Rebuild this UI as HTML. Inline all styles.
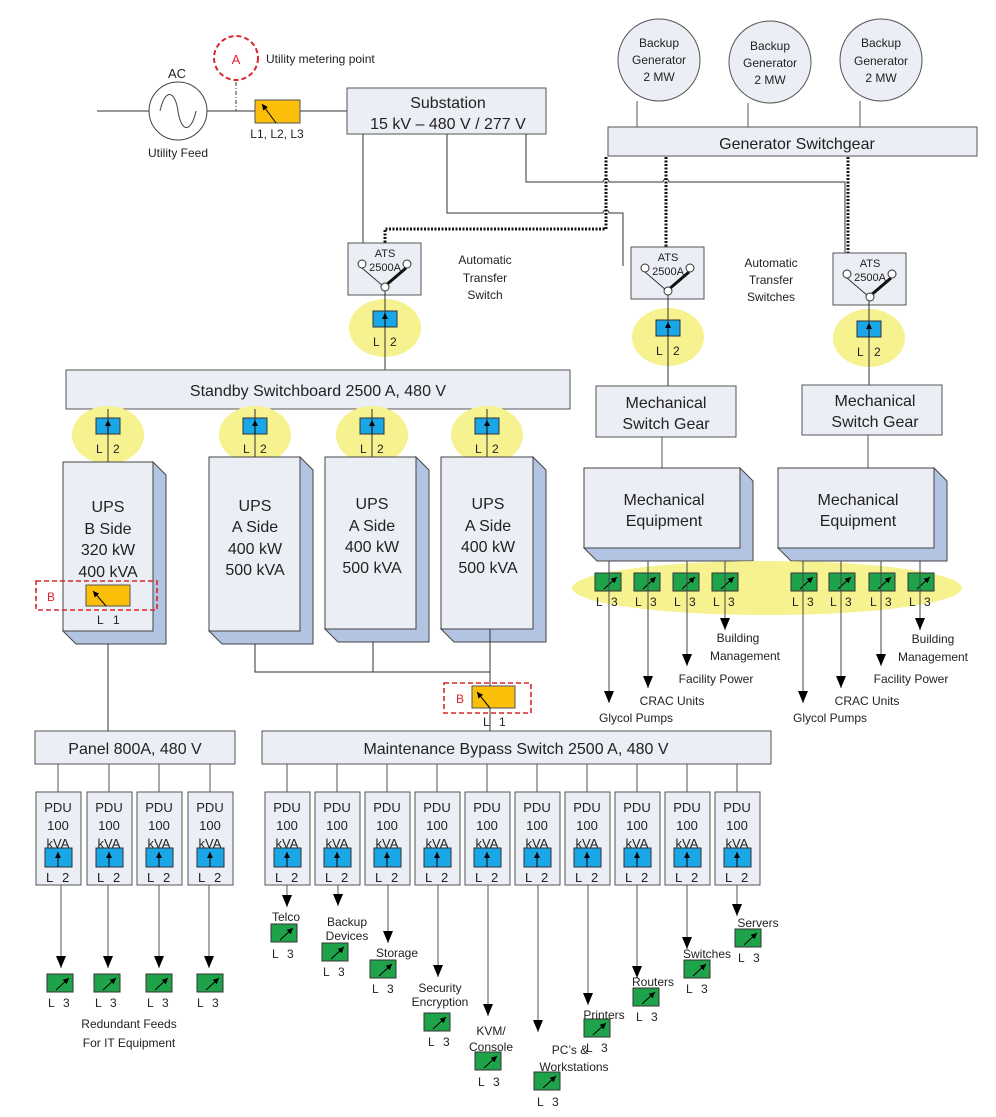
<!DOCTYPE html>
<html><head><meta charset="utf-8"><style>
html,body{margin:0;padding:0;background:#fff}
svg{display:block}
text{font-family:"Liberation Sans",Arial,sans-serif;fill:#222}
</style></head><body>
<svg width="996" height="1117" viewBox="0 0 996 1117" xmlns="http://www.w3.org/2000/svg">
<defs>
<marker id="ah" markerWidth="12" markerHeight="10" refX="12" refY="5" orient="auto" markerUnits="userSpaceOnUse" viewBox="0 0 12 10"><path d="M0,0 L12,5 L0,10 z" fill="#000"/></marker>
<marker id="sa" markerWidth="6" markerHeight="6" refX="6" refY="3" orient="auto" markerUnits="userSpaceOnUse" viewBox="0 0 6 6"><path d="M0,0 L6,3 L0,6 z" fill="#000"/></marker>
</defs>
<g stroke="#333" fill="none" stroke-width="1">
<line x1="97" y1="111" x2="149" y2="111"/>
<line x1="207" y1="111" x2="347" y2="111"/>
<circle cx="178" cy="111" r="29" stroke="#444"/>
<path d="M160,111 C165,88 175,90 178,111 C181,132 191,134 196,111" stroke="#444"/>
<line x1="236" y1="82" x2="236" y2="111" stroke-dasharray="4,2,1,2"/>
</g>
<circle cx="236" cy="58" r="22" fill="#fff" stroke="#d9262b" stroke-width="2" stroke-dasharray="5,3"/>
<text x="236" y="64" text-anchor="middle" font-size="13" style="fill:#d9262b">A</text>
<text x="266" y="63" font-size="12">Utility metering point</text>
<text x="177" y="78" text-anchor="middle" font-size="13">AC</text>
<text x="178" y="157" text-anchor="middle" font-size="12">Utility Feed</text>
<rect x="255" y="100" width="45" height="23" fill="#fbbf0a" stroke="#555"/>
<line x1="276" y1="123" x2="262" y2="104" stroke="#000" marker-end="url(#sa)"/>
<text x="277" y="138" text-anchor="middle" font-size="12">L1, L2, L3</text>

<rect x="347" y="88" width="199" height="46" fill="#eceef6" stroke="#555"/>
<text x="448" y="108" text-anchor="middle" font-size="16">Substation</text>
<text x="448" y="129" text-anchor="middle" font-size="16">15 kV – 480 V / 277 V</text>

<g stroke="#555" fill="#eceef6">
<circle cx="659" cy="60" r="41"/><circle cx="770" cy="62" r="41"/><circle cx="881" cy="60" r="41"/>
</g>
<g font-size="12" text-anchor="middle">
<text x="659" y="47">Backup</text><text x="659" y="64">Generator</text><text x="659" y="81">2 MW</text>
<text x="770" y="50">Backup</text><text x="770" y="67">Generator</text><text x="770" y="84">2 MW</text>
<text x="881" y="47">Backup</text><text x="881" y="65">Generator</text><text x="881" y="82">2 MW</text>
</g>
<g stroke="#555"><line x1="637" y1="101" x2="637" y2="127"/><line x1="748" y1="103" x2="748" y2="127"/><line x1="860" y1="101" x2="860" y2="127"/></g>
<rect x="608" y="127" width="369" height="29" fill="#eceef6" stroke="#555"/>
<text x="797" y="149" text-anchor="middle" font-size="16">Generator Switchgear</text>

<g stroke="#333" fill="none">
<path d="M363,134 V258"/>
<path d="M447,134 V213 H603 a3,3 0 0 1 6,0 H623 V266"/>
<path d="M526,134 V182 H603 a3,3 0 0 1 6,0 H663 a3,3 0 0 1 6,0 H845 V268"/>
</g>
<g stroke="#111" fill="none" stroke-width="3" stroke-dasharray="2,1.5">
<path d="M606,157 V229 H385 V258"/>
<path d="M666,157 V261"/>
<path d="M848,157 V264"/>
</g>

<g id="ats1">
<rect x="348" y="243" width="73" height="52" fill="#eceef6" stroke="#555"/>
<text x="385" y="257" text-anchor="middle" font-size="11">ATS</text>
<text x="385" y="271" text-anchor="middle" font-size="11">2500A</text>
<line x1="362" y1="268" x2="383" y2="286" stroke="#333"/>
<line x1="385" y1="286" x2="406" y2="268" stroke="#111" stroke-width="3"/>
<circle cx="362" cy="264" r="4" fill="#fff" stroke="#333"/>
<circle cx="407" cy="264" r="4" fill="#fff" stroke="#333"/>
<circle cx="385" cy="287" r="4" fill="#fff" stroke="#333"/>
</g>
<use href="#ats1" transform="translate(283,4)"/>
<use href="#ats1" transform="translate(485,10)"/>
<g font-size="12" text-anchor="middle">
<text x="485" y="264">Automatic</text><text x="485" y="282">Transfer</text><text x="485" y="299">Switch</text>
<text x="771" y="267">Automatic</text><text x="771" y="284">Transfer</text><text x="771" y="301">Switches</text>
</g>

<g id="l2e">
<ellipse cx="385" cy="328" rx="36" ry="29" fill="#f6f290"/>
<rect x="373" y="311" width="24" height="16" fill="#1aa7e8" stroke="#333"/>
<text x="373" y="346" font-size="12">L</text><text x="390" y="346" font-size="12">2</text>
</g>
<use href="#l2e" transform="translate(283,9)"/>
<use href="#l2e" transform="translate(484,10)"/>
<g stroke="#333" fill="none">
<line x1="385" y1="291" x2="385" y2="370" />
<line x1="668" y1="295" x2="668" y2="386"/>
<line x1="869" y1="301" x2="869" y2="385"/>
</g>
<g stroke="#000" marker-end="url(#sa)"><line x1="385" y1="327" x2="385" y2="313"/><line x1="668" y1="336" x2="668" y2="322"/><line x1="869" y1="337" x2="869" y2="323"/></g>

<rect x="66" y="370" width="504" height="39" fill="#eceef6" stroke="#555"/>
<text x="318" y="396" text-anchor="middle" font-size="16">Standby Switchboard  2500 A, 480 V</text>

<use href="#l2e" transform="translate(-277,107)"/>
<use href="#l2e" transform="translate(-130,107)"/>
<use href="#l2e" transform="translate(-13,107)"/>
<use href="#l2e" transform="translate(102,107)"/>
<g stroke="#333"><line x1="108" y1="409" x2="108" y2="462"/><line x1="255" y1="409" x2="255" y2="457"/><line x1="372" y1="409" x2="372" y2="457"/><line x1="487" y1="409" x2="487" y2="457"/></g>
<g stroke="#000" marker-end="url(#sa)"><line x1="108" y1="434" x2="108" y2="420"/><line x1="255" y1="434" x2="255" y2="420"/><line x1="372" y1="434" x2="372" y2="420"/><line x1="487" y1="434" x2="487" y2="420"/></g>

<g stroke="#444">
<path d="M153,462 l13,13 v169 h-90 l-13,-13 h90 z" fill="#b3c4e3"/>
<rect x="63" y="462" width="90" height="169" fill="#eceef6"/>
<path d="M300,457 l13,13 v174 h-91 l-13,-13 h91 z" fill="#b3c4e3"/>
<rect x="209" y="457" width="91" height="174" fill="#eceef6"/>
<path d="M416,457 l13,13 v172 h-91 l-13,-13 h91 z" fill="#b3c4e3"/>
<rect x="325" y="457" width="91" height="172" fill="#eceef6"/>
<path d="M533,457 l13,13 v172 h-92 l-13,-13 h92 z" fill="#b3c4e3"/>
<rect x="441" y="457" width="92" height="172" fill="#eceef6"/>
</g>
<g font-size="16" text-anchor="middle">
<text x="108" y="512">UPS</text><text x="108" y="534">B Side</text><text x="108" y="555">320 kW</text><text x="108" y="577">400 kVA</text>
<text x="255" y="511">UPS</text><text x="255" y="532">A Side</text><text x="255" y="554">400 kW</text><text x="255" y="575">500 kVA</text>
<text x="372" y="509">UPS</text><text x="372" y="531">A Side</text><text x="372" y="552">400 kW</text><text x="372" y="573">500 kVA</text>
<text x="488" y="509">UPS</text><text x="488" y="531">A Side</text><text x="488" y="552">400 kW</text><text x="488" y="573">500 kVA</text>
</g>
<rect x="36" y="581" width="121" height="29" fill="none" stroke="#d9262b" stroke-width="1.6" stroke-dasharray="5,3"/>
<text x="47" y="601" font-size="12" style="fill:#d9262b">B</text>
<rect x="86" y="585" width="44" height="21" fill="#fbbf0a" stroke="#555"/>
<line x1="106" y1="606" x2="93" y2="591" stroke="#000" marker-end="url(#sa)"/>
<text x="97" y="624" font-size="12">L</text><text x="113" y="624" font-size="12">1</text>

<g stroke="#333" fill="none">
<line x1="108" y1="644" x2="108" y2="731"/>
<path d="M255,644 V672 H490"/>
<line x1="373" y1="642" x2="373" y2="672"/>
<line x1="490" y1="629" x2="490" y2="731"/>
</g>
<rect x="444" y="683" width="87" height="30" fill="none" stroke="#d9262b" stroke-width="1.6" stroke-dasharray="5,3"/>
<text x="456" y="703" font-size="12" style="fill:#d9262b">B</text>
<rect x="472" y="686" width="43" height="22" fill="#fbbf0a" stroke="#555"/>
<line x1="490" y1="708" x2="477" y2="692" stroke="#000" marker-end="url(#sa)"/>
<text x="483" y="726" font-size="12">L</text><text x="499" y="726" font-size="12">1</text>

<rect x="596" y="386" width="140" height="51" fill="#eceef6" stroke="#555"/>
<text x="666" y="408" text-anchor="middle" font-size="16">Mechanical</text>
<text x="666" y="429" text-anchor="middle" font-size="16">Switch Gear</text>
<rect x="802" y="385" width="140" height="50" fill="#eceef6" stroke="#555"/>
<text x="875" y="406" text-anchor="middle" font-size="16">Mechanical</text>
<text x="875" y="427" text-anchor="middle" font-size="16">Switch Gear</text>
<g stroke="#555"><line x1="662" y1="437" x2="662" y2="468"/><line x1="868" y1="435" x2="868" y2="468"/></g>
<g stroke="#444">
<path d="M740,468 l13,13 v80 h-156 l-13,-13 h156 z" fill="#b3c4e3"/>
<rect x="584" y="468" width="156" height="80" fill="#eceef6"/>
<path d="M934,468 l13,13 v80 h-156 l-13,-13 h156 z" fill="#b3c4e3"/>
<rect x="778" y="468" width="156" height="80" fill="#eceef6"/>
</g>
<g font-size="16" text-anchor="middle">
<text x="664" y="505">Mechanical</text><text x="664" y="526">Equipment</text>
<text x="858" y="505">Mechanical</text><text x="858" y="526">Equipment</text>
</g>
<ellipse cx="767" cy="588" rx="195" ry="27" fill="#f6f290"/>

<g id="g3">
<rect x="595" y="573" width="26" height="18" fill="#1fa34a" stroke="#333"/>
<line x1="604" y1="589" x2="617" y2="577" stroke="#000" marker-end="url(#sa)"/>
</g>
<use href="#g3" transform="translate(39,0)"/><use href="#g3" transform="translate(78,0)"/><use href="#g3" transform="translate(117,0)"/>
<use href="#g3" transform="translate(196,0)"/><use href="#g3" transform="translate(234,0)"/><use href="#g3" transform="translate(274,0)"/><use href="#g3" transform="translate(313,0)"/>
<g font-size="12">
<text x="596" y="606">L</text><text x="611" y="606">3</text>
<text x="635" y="606">L</text><text x="650" y="606">3</text>
<text x="674" y="606">L</text><text x="689" y="606">3</text>
<text x="713" y="606">L</text><text x="728" y="606">3</text>
<text x="792" y="606">L</text><text x="807" y="606">3</text>
<text x="830" y="606">L</text><text x="845" y="606">3</text>
<text x="870" y="606">L</text><text x="885" y="606">3</text>
<text x="909" y="606">L</text><text x="924" y="606">3</text>
</g>
<g stroke="#444" marker-end="url(#ah)">
<line x1="609" y1="561" x2="609" y2="703"/>
<line x1="648" y1="561" x2="648" y2="688"/>
<line x1="687" y1="561" x2="687" y2="666"/>
<line x1="725" y1="561" x2="725" y2="630"/>
<line x1="803" y1="561" x2="803" y2="703"/>
<line x1="841" y1="561" x2="841" y2="688"/>
<line x1="881" y1="561" x2="881" y2="666"/>
<line x1="920" y1="561" x2="920" y2="630"/>
</g>
<g font-size="12" text-anchor="middle">
<text x="738" y="642">Building</text><text x="745" y="660">Management</text>
<text x="716" y="683">Facility Power</text>
<text x="672" y="705">CRAC Units</text>
<text x="636" y="722">Glycol Pumps</text>
<text x="933" y="643">Building</text><text x="933" y="661">Management</text>
<text x="911" y="683">Facility Power</text>
<text x="867" y="705">CRAC Units</text>
<text x="830" y="722">Glycol Pumps</text>
</g>

<rect x="35" y="731" width="200" height="33" fill="#eceef6" stroke="#555"/>
<text x="135" y="754" text-anchor="middle" font-size="16">Panel  800A, 480 V</text>
<rect x="262" y="731" width="509" height="33" fill="#eceef6" stroke="#555"/>
<text x="516" y="754" text-anchor="middle" font-size="16">Maintenance Bypass Switch   2500 A, 480 V</text>

<g id="pdu">
<line x1="58" y1="764" x2="58" y2="792" stroke="#555"/>
<rect x="36" y="792" width="45" height="93" fill="#eceef6" stroke="#555"/>
<text x="58" y="812" text-anchor="middle" font-size="13">PDU</text>
<text x="58" y="830" text-anchor="middle" font-size="13">100</text>
<text x="58" y="848" text-anchor="middle" font-size="13">kVA</text>
<rect x="45" y="848" width="27" height="19" fill="#1aa7e8" stroke="#333"/>
<line x1="58" y1="867" x2="58" y2="852" stroke="#000" marker-end="url(#sa)"/>
<text x="46" y="882" font-size="13">L</text><text x="62" y="882" font-size="13">2</text>
</g>
<use href="#pdu" transform="translate(51,0)"/>
<use href="#pdu" transform="translate(101,0)"/>
<use href="#pdu" transform="translate(152,0)"/>
<use href="#pdu" transform="translate(229,0)"/>
<use href="#pdu" transform="translate(279,0)"/>
<use href="#pdu" transform="translate(329,0)"/>
<use href="#pdu" transform="translate(379,0)"/>
<use href="#pdu" transform="translate(429,0)"/>
<use href="#pdu" transform="translate(479,0)"/>
<use href="#pdu" transform="translate(529,0)"/>
<use href="#pdu" transform="translate(579,0)"/>
<use href="#pdu" transform="translate(629,0)"/>
<use href="#pdu" transform="translate(679,0)"/>

<g stroke="#555" marker-end="url(#ah)">
<line x1="61" y1="885" x2="61" y2="968"/>
<line x1="108" y1="885" x2="108" y2="968"/>
<line x1="159" y1="885" x2="159" y2="968"/>
<line x1="209" y1="885" x2="209" y2="968"/>
</g>
<use href="#g3" transform="translate(-548,401)"/>
<use href="#g3" transform="translate(-501,401)"/>
<use href="#g3" transform="translate(-449,401)"/>
<use href="#g3" transform="translate(-398,401)"/>
<g font-size="12">
<text x="48" y="1007">L</text><text x="63" y="1007">3</text>
<text x="95" y="1007">L</text><text x="110" y="1007">3</text>
<text x="147" y="1007">L</text><text x="162" y="1007">3</text>
<text x="197" y="1007">L</text><text x="212" y="1007">3</text>
<text x="129" y="1028" text-anchor="middle">Redundant Feeds</text>
<text x="129" y="1047" text-anchor="middle">For IT Equipment</text>
</g>

<g stroke="#555" marker-end="url(#ah)">
<line x1="287" y1="885" x2="287" y2="907"/>
<line x1="338" y1="885" x2="338" y2="906"/>
<line x1="388" y1="885" x2="388" y2="943"/>
<line x1="438" y1="885" x2="438" y2="977"/>
<line x1="488" y1="885" x2="488" y2="1016"/>
<line x1="538" y1="885" x2="538" y2="1032"/>
<line x1="588" y1="885" x2="588" y2="1005"/>
<line x1="637" y1="885" x2="637" y2="978"/>
<line x1="687" y1="885" x2="687" y2="949"/>
<line x1="737" y1="885" x2="737" y2="916"/>
</g>
<use href="#g3" transform="translate(-324,351)"/>
<use href="#g3" transform="translate(-273,370)"/>
<use href="#g3" transform="translate(-225,387)"/>
<use href="#g3" transform="translate(-171,440)"/>
<use href="#g3" transform="translate(-120,479)"/>
<use href="#g3" transform="translate(-61,499)"/>
<use href="#g3" transform="translate(-11,446)"/>
<use href="#g3" transform="translate(38,415)"/>
<use href="#g3" transform="translate(89,387)"/>
<use href="#g3" transform="translate(140,356)"/>
<g font-size="12">
<text x="286" y="921" text-anchor="middle">Telco</text>
<text x="347" y="926" text-anchor="middle">Backup</text><text x="347" y="940" text-anchor="middle">Devices</text>
<text x="397" y="957" text-anchor="middle">Storage</text>
<text x="440" y="992" text-anchor="middle">Security</text><text x="440" y="1006" text-anchor="middle">Encryption</text>
<text x="491" y="1035" text-anchor="middle">KVM/</text><text x="491" y="1051" text-anchor="middle">Console</text>
<text x="570" y="1054" text-anchor="middle">PC’s &amp;</text><text x="574" y="1071" text-anchor="middle">Workstations</text>
<text x="604" y="1019" text-anchor="middle">Printers</text>
<text x="653" y="986" text-anchor="middle">Routers</text>
<text x="707" y="958" text-anchor="middle">Switches</text>
<text x="758" y="927" text-anchor="middle">Servers</text>
<text x="272" y="958">L</text><text x="287" y="958">3</text>
<text x="323" y="976">L</text><text x="338" y="976">3</text>
<text x="372" y="993">L</text><text x="387" y="993">3</text>
<text x="428" y="1046">L</text><text x="443" y="1046">3</text>
<text x="478" y="1086">L</text><text x="493" y="1086">3</text>
<text x="537" y="1106">L</text><text x="552" y="1106">3</text>
<text x="586" y="1052">L</text><text x="601" y="1052">3</text>
<text x="636" y="1021">L</text><text x="651" y="1021">3</text>
<text x="686" y="993">L</text><text x="701" y="993">3</text>
<text x="738" y="962">L</text><text x="753" y="962">3</text>
</g>
</svg>
</body></html>
